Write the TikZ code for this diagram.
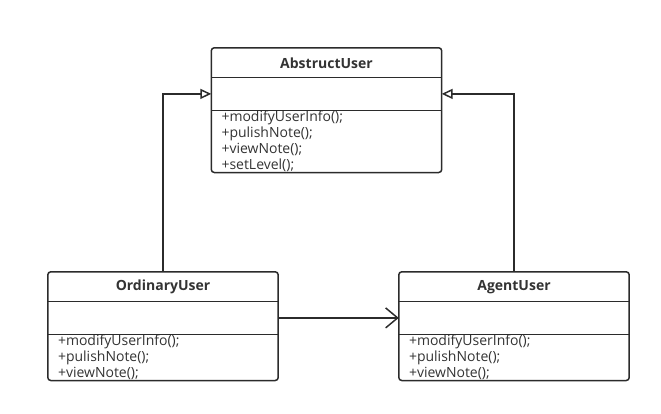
\documentclass[tikz,border=0pt]{standalone}
\usepackage{fontspec}
\setmainfont{Open Sans}
\usetikzlibrary{arrows.meta, positioning}
\definecolor{uline}{HTML}{2B2B2B}
\definecolor{utext}{HTML}{333333}
\tikzset{
  cname/.style={minimum width=230pt, minimum height=29.5pt, inner sep=0pt,
                font=\fontsize{14}{16}\selectfont\bfseries, text=utext},
  cattr/.style={minimum width=230pt, minimum height=32pt, inner sep=0pt},
  cops/.style={text width=210pt, inner xsep=10pt, inner ysep=0pt, align=left,
               font=\fontsize{14}{16}\selectfont, text=utext},
  cbox/.style={draw=uline, line width=1.5pt, rounded corners=3pt},
  cline/.style={draw=uline, line width=1.2pt},
  inh/.style={-{Triangle[open, length=11pt, width=10pt]}, line width=1.5pt, uline},
  assoc/.style={-{Straight Barb[length=12pt, width=20pt]}, line width=1.5pt, uline},
}
\begin{document}
\begin{tikzpicture}[x=1pt, y=-1pt]
    \useasboundingbox (0,0) rectangle (661,413);

    \node[cname] (absname) at (326.5, 62.75) {AbstructUser};
    \node[cattr, below=0pt of absname] (absattr) {};
    \node[cops, minimum height=62pt, below=0pt of absattr] (absops)
      {+modifyUserInfo();\\+pulishNote();\\+viewNote();\\+setLevel();};

    \node[cname] (ordname) at (163, 286.75) {OrdinaryUser};
    \node[cattr, below=0pt of ordname] (ordattr) {};
    \node[cops, minimum height=46pt, below=0pt of ordattr] (ordops)
      {+modifyUserInfo();\\+pulishNote();\\+viewNote();};

    \node[cname] (agname) at (514, 286.75) {AgentUser};
    \node[cattr, below=0pt of agname] (agattr) {};
    \node[cops, minimum height=46pt, below=0pt of agattr] (agops)
      {+modifyUserInfo();\\+pulishNote();\\+viewNote();};

    \draw[cbox] (absname.north west) rectangle (absops.south east);
    \draw[cline] (absattr.north west) -- (absattr.north east);
    \draw[cline] (absattr.south west) -- (absattr.south east);
    \draw[cbox] (ordname.north west) rectangle (ordops.south east);
    \draw[cline] (ordattr.north west) -- (ordattr.north east);
    \draw[cline] (ordattr.south west) -- (ordattr.south east);
    \draw[cbox] (agname.north west) rectangle (agops.south east);
    \draw[cline] (agattr.north west) -- (agattr.north east);
    \draw[cline] (agattr.south west) -- (agattr.south east);

    \draw[inh] (ordname.north) |- (absattr.west);
    \draw[inh] (agname.north) |- (absattr.east);
    \draw[assoc] (ordattr.east) -- (agattr.west);
\end{tikzpicture}
\end{document}
